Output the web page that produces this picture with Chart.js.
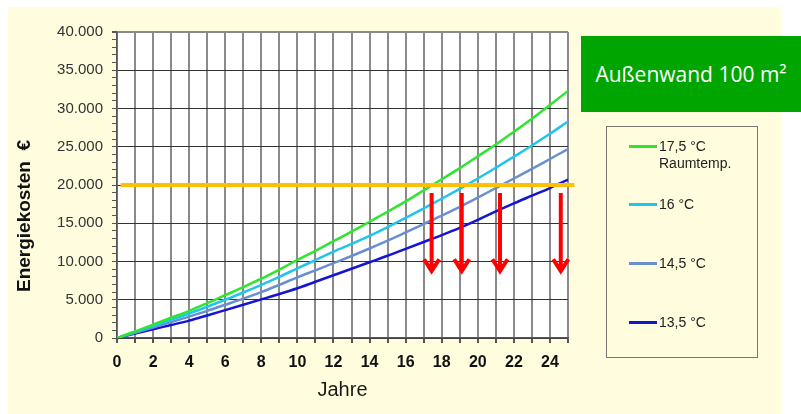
<!DOCTYPE html>
<html>
<head>
<meta charset="utf-8">
<script src="https://cdn.jsdelivr.net/npm/chart.js@4.4.1/dist/chart.umd.min.js"></script>
<style>
html,body{margin:0;padding:0;background:#fff;}
#wrap{position:relative;width:801px;height:414px;overflow:hidden;background:#fff;}
#panel{position:absolute;left:8px;top:7px;width:773px;height:407px;background:#FFFDDE;}
#cv{position:absolute;left:0;top:0;}
#badge{position:absolute;left:581px;top:36px;width:220px;height:76px;background:#00A500;color:#fff;
  font:21px "Open Sans",sans-serif;display:flex;align-items:center;justify-content:center;white-space:nowrap;}
#legend{position:absolute;left:606px;top:126px;width:150px;height:230px;border:1px solid #77776f;}
.lg-item{position:absolute;left:0;width:150px;}
.lg-line{position:absolute;left:22px;width:28px;height:3px;}
.lg-text{position:absolute;left:52px;top:0;font:14px "Liberation Sans",Arial,sans-serif;line-height:17px;color:#222;white-space:nowrap;}
</style>
</head>
<body>
<div id="wrap">
  <div id="panel"></div>
  <canvas id="cv" width="801" height="414"></canvas>
  <div id="badge"></div>
  <div id="legend"></div>
</div>
<script>
// ---- data ----
const years = [0,1,2,3,4,5,6,7,8,9,10,11,12,13,14,15,16,17,18,19,20,21,22,23,24,25];
const cost175 = [0,850,1750,2650,3550,4550,5600,6650,7750,8950,10200,11400,12650,13900,15200,16500,17850,19300,20750,22200,23750,25300,26950,28650,30450,32300];
const cost160 = [0,780,1580,2380,3200,4080,5000,5950,6950,8000,9100,10180,11280,12300,13350,14500,15700,16950,18200,19500,20850,22250,23700,25170,26700,28300];
const cost145 = [0,680,1380,2080,2800,3550,4350,5150,6000,6950,7930,8850,9780,10720,11700,12720,13800,14900,16000,17150,18350,19600,20850,22100,23400,24700];
const cost135 = [0,580,1150,1700,2270,2950,3650,4350,5050,5750,6500,7350,8200,9050,9900,10750,11650,12550,13450,14400,15450,16550,17600,18600,19600,20700];
const seriesLabels = [['17,5 °C','Raumtemp.'],['16 °C'],['14,5 °C'],['13,5 °C']];
const limitValue = 20000;
const limitSpan = [0.2, 25.35];
const arrowYears = [17.44, 19.11, 21.23, 24.6];
const arrowTop = 18950, arrowTip = 8750, arrowWing = 10300, arrowHalf = 0.42;
const xTickLabels = ['0','2','4','6','8','10','12','14','16','18','20','22','24'];
const yTickLabels = ['0','5.000','10.000','15.000','20.000','25.000','30.000','35.000','40.000'];
const xTitle = 'Jahre';
const yTitle = 'Energiekosten  €';
const badgeText = 'Außenwand 100 m²';

// ---- styles ----
const seriesColors = ['#2EE62E','#1EC6EE','#6A8ED2','#1414D6'];
const seriesData = [cost175, cost160, cost145, cost135];

const datasets = [];
arrowYears.forEach(t => {
  datasets.push({
    type:'line', order:0, clip:false,
    data:[{x:t,y:arrowTop},{x:t,y:arrowTip},{x:t,y:null},{x:t-arrowHalf,y:arrowWing},{x:t,y:arrowTip},{x:t+arrowHalf,y:arrowWing}],
    borderColor:'#FF0000', borderWidth:4, pointRadius:0, borderJoinStyle:'miter', borderCapStyle:'butt', spanGaps:false, tension:0
  });
});
datasets.push({
  type:'line', order:1, clip:false,
  data:[{x:limitSpan[0],y:limitValue},{x:limitSpan[1],y:limitValue}],
  borderColor:'#FFC000', borderWidth:4, pointRadius:0, tension:0
});
seriesData.forEach((arr,i) => {
  datasets.push({
    type:'line', order:2,
    label: seriesLabels[i].join(' '),
    data: years.map((y,k)=>({x:y,y:arr[k]})),
    borderColor: seriesColors[i], borderWidth:2.5, pointRadius:0, cubicInterpolationMode:'monotone'
  });
});

const decor = {
  id:'decor',
  beforeDraw(chart){
    const {ctx, chartArea:a} = chart;
    ctx.save(); ctx.fillStyle='#fff';
    ctx.fillRect(a.left, a.top, a.right-a.left, a.bottom-a.top);
    ctx.restore();
  },
  afterDraw(chart){
    const ctx = chart.ctx;
    ctx.save();
    ctx.translate(30, 292);
    ctx.rotate(-Math.PI/2);
    ctx.font = 'bold 19px "Liberation Sans", Arial, sans-serif';
    ctx.fillStyle = '#111';
    ctx.textAlign = 'left';
    ctx.textBaseline = 'alphabetic';
    ctx.fillText(yTitle, 0, 0);
    ctx.restore();
  }
};

new Chart(document.getElementById('cv'), {
  type:'line',
  data:{datasets},
  plugins:[decor],
  options:{
    responsive:false, animation:false, devicePixelRatio:1,
    layout:{padding:{left:16, top:32, right:233, bottom:0}},
    plugins:{legend:{display:false}, tooltip:{enabled:false}},
    scales:{
      x:{
        type:'linear', min:0, max:25,
        afterFit(s){ s.height = 76; },
        ticks:{stepSize:1, autoSkip:false, maxRotation:0, padding:10,
          color:'#111', font:{family:'"Liberation Sans", Arial, sans-serif', size:16, weight:'bold'},
          callback:(v)=> (v % 2 === 0 && v/2 < xTickLabels.length) ? xTickLabels[v/2] : ''},
        grid:{color:'#8a8a8a', lineWidth:2, tickColor:'#555', tickLength:5},
        border:{color:'#555', width:1.5},
        title:{display:true, text:xTitle, color:'#1a1a1a', padding:{top:0,bottom:12},
          font:{family:'"Liberation Sans", Arial, sans-serif', size:20}}
      },
      y:{
        type:'linear', min:0, max:40000,
        afterFit(s){ s.width = 101; },
        ticks:{stepSize:1000, autoSkip:false, padding:9, color:'#333',
          font:{family:'"Liberation Sans", Arial, sans-serif', size:15},
          callback:(v)=> (v % 5000 === 0) ? yTickLabels[v/5000] : ''},
        grid:{
          color:(c)=>{ const v=c.tick.value; if (v % 5000 !== 0) return 'rgba(0,0,0,0)'; return v===40000 ? '#8a8a8a' : '#333'; },
          lineWidth:(c)=> c.tick.value===40000 ? 2 : 1,
          tickColor:'#555', tickLength:5
        },
        border:{color:'#555', width:1.5}
      }
    }
  }
});

// ---- HTML parts ----
document.getElementById('badge').textContent = badgeText;
const lg = document.getElementById('legend');
const centers = [19, 77.5, 136, 195];
seriesLabels.forEach((lines,i)=>{
  const it = document.createElement('div');
  it.className='lg-item';
  it.style.top = (centers[i]-8.5)+'px';
  const ln = document.createElement('div');
  ln.className='lg-line';
  ln.style.top='7px';
  ln.style.background=seriesColors[i];
  const tx = document.createElement('div');
  tx.className='lg-text';
  tx.innerHTML = lines.join('<br>');
  it.appendChild(ln); it.appendChild(tx);
  lg.appendChild(it);
});
</script>
</body>
</html>
